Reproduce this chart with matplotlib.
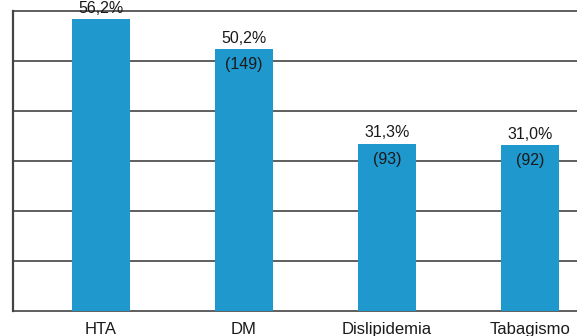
import matplotlib.pyplot as plt
import numpy as np

plt.rcParams['font.family'] = ['Liberation Sans', 'DejaVu Sans']

categories = ['HTA', 'DM', 'Dislipidemia', 'Tabagismo']
percents = [56.2, 50.2, 31.3, 31.0]
counts = [None, 149, 93, 92]

BAR_COLOR = '#1e98cd'
GRID_COLOR = '#333333'
Y_MIN, Y_MAX = -2.2, 57.8

fig = plt.figure(figsize=(5.77, 3.36), dpi=100)
ax = fig.add_axes([13 / 577, 25 / 336, 1.0, 300 / 336])

x = np.arange(len(categories))
vals = np.array(percents)
ax.bar(x, vals - Y_MIN, bottom=Y_MIN, width=0.405, color=BAR_COLOR, zorder=3)

# horizontal rules every 10 points, starting at the floor of the axis
for y in np.arange(Y_MIN, Y_MAX + 0.1, 10):
    ax.axhline(y, color=GRID_COLOR, lw=1.1, zorder=1, clip_on=False)

for xi, p, c in zip(x, percents, counts):
    ax.annotate(f'{p:.1f}%'.replace('.', ','), (xi, p), xytext=(0, 2.5),
                textcoords='offset points', ha='center', va='bottom',
                fontsize=11.5, color='#1a1a1a', annotation_clip=False, zorder=4)
    if c is not None:
        ax.annotate(f'({c})', (xi, p), xytext=(0, -6),
                    textcoords='offset points', ha='center', va='top',
                    fontsize=11.5, color='#1a1a1a', zorder=4)

ax.set_xlim(-0.615, -0.615 + 577 / 143)
ax.set_ylim(Y_MIN, Y_MAX)
ax.set_xticks(x)
ax.set_xticklabels(categories, fontsize=12, color='#1a1a1a')
ax.tick_params(axis='x', length=0, pad=8)
ax.set_yticks([])

for side in ['top', 'right', 'bottom']:
    ax.spines[side].set_visible(False)
ax.spines['left'].set_color('#444444')
ax.spines['left'].set_linewidth(1.6)

fig.savefig('out.png', dpi=100)
